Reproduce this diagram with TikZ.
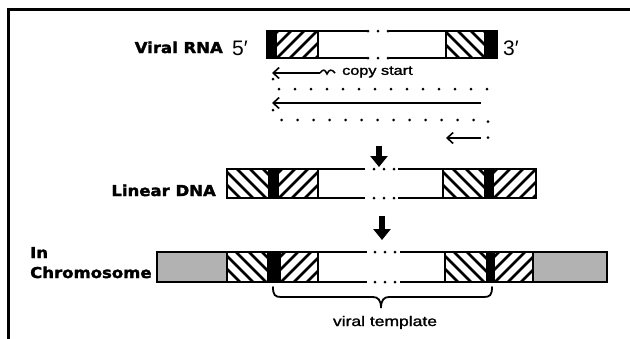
\documentclass[tikz,border=0pt]{standalone}
\usepackage{fontspec}
\setmainfont{Liberation Sans}
\newfontfamily\heavyfont{DejaVu Sans Bold}[FakeStretch=1.1,FakeBold=2]
\newfontfamily\mediumfont{Liberation Sans}[FakeStretch=1.25,FakeBold=1.5]
\usetikzlibrary{arrows.meta}

\definecolor{hostgray}{gray}{0.7}

\tikzset{
  outline/.style={line width=2.6pt, line cap=rect},
  hatchline/.style={line width=2.8pt},
  frameline/.style={line width=3pt, line cap=rect},
  bigarrow/.style={line width=6pt, -{Triangle[length=11pt,width=17pt]}},
  thinarrow/.style={line width=1.6pt, -{Straight Barb[length=6pt,width=11pt]}},
  dotline/.style={line width=3pt, line cap=round, dash pattern=on 0pt off 16pt},
  bracestroke/.style={line width=1.8pt, line cap=round},
  heavylabel/.style={font=\heavyfont\fontsize{15}{17}\selectfont, inner sep=0pt},
  smalllabel/.style={font=\mediumfont\fontsize{13}{15}\selectfont, inner sep=0pt},
  templlabel/.style={font=\mediumfont\fontsize{14}{16}\selectfont, inner sep=0pt},
  endlabel/.style={font=\fontsize{21}{23}\selectfont, inner sep=0pt},
}

% diagonal hatching of a box: x1, x2, y1, y2, direction (1 = ///, -1 = \\\)
\newcommand\hatchfill[5]{%
  \begin{scope}
    \clip (#1,#3) rectangle (#2,#4);
    \foreach \k in {-39,-26,...,78}
      \draw[hatchline] ({#1+\k},#4) -- ++({#5*(#4-#3)},{#3-#4});
  \end{scope}}

% outline of a strand: x1, x2, y1, y2, gap start, gap end, centre of the gap dots
\newcommand\strandoutline[7]{%
  \draw[outline] (#5,#3) -- (#1,#3) -- (#1,#4) -- (#5,#4);
  \draw[outline] (#6,#3) -- (#2,#3) -- (#2,#4) -- (#6,#4);
  \foreach \dd in {-10,0,10}{
    \fill ({#7+\dd},#3) circle (1.5pt);
    \fill ({#7+\dd},#4) circle (1.5pt);}}

% a divider between two parts of a strand: x, y1, y2
\newcommand\divider[3]{\draw[outline] (#1,#2) -- (#1,#3);}

\begin{document}
\begin{tikzpicture}[x=1pt, y=-1pt]
\useasboundingbox (0,0) rectangle (630,338);

% frame
\draw[frameline] (630,9) -- (8,9) -- (8,340);

% ---------- viral RNA ----------
\fill (267,31) rectangle (277,58);
\hatchfill{277}{318}{31}{58}{1}
\hatchfill{446}{484}{31}{58}{-1}
\fill (484,31) rectangle (497,58);
\divider{318}{31}{58}
\divider{446}{31}{58}
\strandoutline{267}{497}{31}{58}{366}{390}{378}

\node[heavylabel, anchor=base east] (rnalabel) at (223,53) {Viral RNA};
\node[endlabel, anchor=base west] (five) at (232,55) {5′};
\node[endlabel, anchor=base west] (three) at (503,55) {3′};

% ---------- reverse transcription ----------
\coordinate (c1tip) at (272,73);
\coordinate (c1tail) at (320,73);
\coordinate (wave) at (335,73);
\draw[thinarrow] (c1tail) -- (c1tip);
\draw[line width=1.5pt] (c1tail) .. controls (323,69) and (325,69) .. (327,74)
  .. controls (329,69) and (332,69) .. (wave);
\node[smalllabel, anchor=west] (copy) at (342,72) {copy start};

\coordinate (d1a) at (273,79);
\coordinate (d1b) at (273,89);
\coordinate (d1c) at (488,89);
\coordinate (d1d) at (488,103);
\draw[dotline] (d1a) -- (d1b) -- (d1c) -- (d1d);

\coordinate (c2tail) at (481,103);
\coordinate (c2tip) at (272,103);
\draw[thinarrow] (c2tail) -- (c2tip);

\coordinate (d2a) at (273,110);
\coordinate (d2b) at (276,120);
\coordinate (d2c) at (488,120);
\coordinate (d2d) at (488,138);
\draw[dotline] (d2a) -- (d2b) -- (d2c) -- (d2d);

\coordinate (c3tail) at (481,138);
\coordinate (c3tip) at (446,138);
\draw[thinarrow] (c3tail) -- (c3tip);

% ---------- step arrows ----------
\coordinate (s1top) at (379,146);
\coordinate (s1tip) at (379,167);
\draw[bigarrow] (s1top) -- (s1tip);
\coordinate (s2top) at (382,216);
\coordinate (s2tip) at (382,240);
\draw[bigarrow] (s2top) -- (s2tip);

% ---------- linear DNA ----------
\hatchfill{227}{268}{169}{198}{-1}
\fill (268,169) rectangle (279,198);
\hatchfill{279}{318}{169}{198}{1}
\hatchfill{443}{484}{169}{198}{-1}
\fill (484,169) rectangle (494,198);
\hatchfill{494}{536}{169}{198}{1}
\divider{318}{169}{198}
\divider{443}{169}{198}
\strandoutline{227}{536}{169}{198}{364}{399}{384}

\node[heavylabel, anchor=base east] (dnalabel) at (216,196) {Linear DNA};

% ---------- integrated in the chromosome ----------
\fill[hostgray] (157,252) rectangle (227,282);
\hatchfill{227}{267}{252}{282}{-1}
\fill (267,252) rectangle (281,282);
\hatchfill{281}{318}{252}{282}{1}
\hatchfill{445}{486}{252}{282}{-1}
\fill (486,252) rectangle (495,282);
\hatchfill{495}{533}{252}{282}{1}
\fill[hostgray] (533,252) rectangle (607,282);
\divider{227}{252}{282}
\divider{318}{252}{282}
\divider{445}{252}{282}
\divider{533}{252}{282}
\strandoutline{157}{607}{252}{282}{366}{401}{385}

\node[heavylabel, anchor=base west] (inlabel) at (30,258) {In};
\node[heavylabel, anchor=base west] (chromlabel) at (30,278) {Chromosome};

% brace under the viral part
\coordinate (bl) at (273,287);
\coordinate (btip) at (381,308);
\coordinate (br) at (492,287);
\draw[bracestroke] (bl) .. controls (273,295) and (275,297) .. (281,297)
  -- (373,297) .. controls (378,297) and (381,300) .. (btip)
  .. controls (381,300) and (384,297) .. (389,297)
  -- (484,297) .. controls (490,297) and (492,295) .. (br);
\node[templlabel, anchor=base] (templ) at (385,326) {viral template};

\end{tikzpicture}
\end{document}
